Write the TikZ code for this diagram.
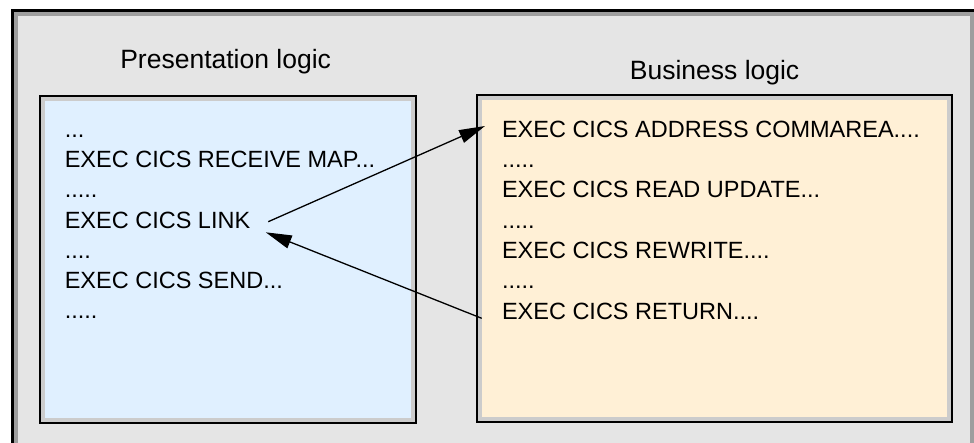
\documentclass[tikz,border=0pt]{standalone}
\usepackage{fontspec}
\setmainfont{Liberation Sans}
\usetikzlibrary{arrows.meta}
\definecolor{framefill}{RGB}{229,229,229}
\definecolor{framestripe}{RGB}{158,158,158}
\definecolor{boxstripe}{RGB}{204,204,204}
\definecolor{presfill}{RGB}{224,240,255}
\definecolor{busfill}{RGB}{255,240,214}
\tikzset{
  codebox/.style={draw=black, line width=2pt, fill=boxstripe, inner sep=0pt, outer sep=0pt},
  bodytext/.style={anchor=base west, inner sep=0pt, outer sep=0pt, font=\fontsize{23.5}{28}\selectfont},
  titletext/.style={anchor=base west, inner sep=0pt, outer sep=0pt, font=\fontsize{26.5}{30}\selectfont},
  flow/.style={line width=1.3pt, -{Triangle[length=26pt,width=13.5pt]}}
}
\begin{document}
\begin{tikzpicture}[x=1pt,y=-1pt]
\useasboundingbox (0,0) rectangle (974,442);
\clip (0,0) rectangle (974,442);
\fill[white] (0,0) rectangle (974,442);
% outer frame
\filldraw[fill=framefill, draw=black, line width=3pt] (12.5,10.5) rectangle (975.5,449);
\draw[framestripe, line width=4pt] (16,14) rectangle (972,446);
% boxes
\node[codebox, minimum width=376pt, minimum height=327.6pt] (pres) at (227.7,259.5) {};
\fill[presfill] ([shift={(5pt,-5pt)}]pres.north west) rectangle ([shift={(-5pt,5pt)}]pres.south east);
\node[codebox, minimum width=475.3pt, minimum height=326.7pt] (bus) at (714.65,258.35) {};
\fill[busfill] ([shift={(5pt,-5pt)}]bus.north west) rectangle ([shift={(-5pt,5pt)}]bus.south east);
% titles
\node[titletext] (prestitle) at (120.3,68.3) {Presentation logic};
\node[titletext] (bustitle) at (629.9,79) {Business logic};
% presentation code
\node[bodytext] (l1) at (64.8,137.5) {...};
\node[bodytext] (l2) at (64.8,167.7) {EXEC CICS RECEIVE MAP...};
\node[bodytext] (l3) at (64.8,197.9) {.....};
\node[bodytext] (l4) at (64.8,228.1) {EXEC CICS LINK};
\node[bodytext] (l5) at (64.8,258.3) {....};
\node[bodytext] (l6) at (64.8,288.5) {EXEC CICS SEND...};
\node[bodytext] (l7) at (64.8,318.7) {.....};
% business code
\node[bodytext] (r1) at (502,137.3) {EXEC CICS ADDRESS COMMAREA....};
\node[bodytext] (r2) at (502,167.6) {.....};
\node[bodytext] (r3) at (502,197.9) {EXEC CICS READ UPDATE...};
\node[bodytext] (r4) at (502,228.2) {.....};
\node[bodytext] (r5) at (502,258.5) {EXEC CICS REWRITE....};
\node[bodytext] (r6) at (502,288.8) {.....};
\node[bodytext] (r7) at (502,319.1) {EXEC CICS RETURN....};
% connectors
\coordinate (linkout) at ([shift={(18pt,6.4pt)}]l4.base east);
\coordinate (linkin) at ([shift={(15.5pt,-4.2pt)}]l4.base east);
\coordinate (addrin) at ([shift={(-17pt,11.3pt)}]r1.base west);
\coordinate (retout) at ([shift={(-20.3pt,0.8pt)}]r7.base west);
\draw[flow] (linkout) -- (addrin);
\draw[flow] (retout) -- (linkin);
\end{tikzpicture}
\end{document}
